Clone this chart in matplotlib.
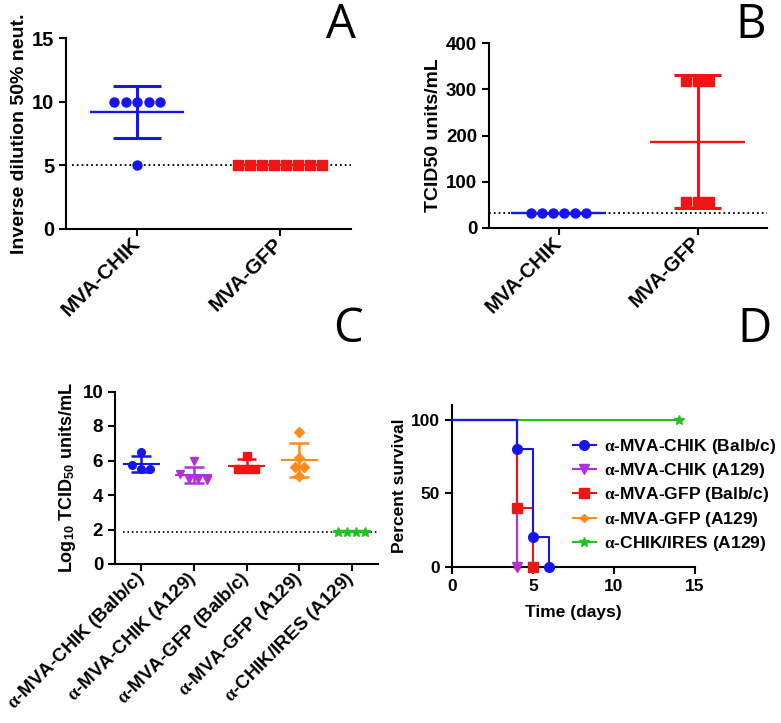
import numpy as np
import matplotlib
matplotlib.use("Agg")
import matplotlib.pyplot as plt
from matplotlib.lines import Line2D

plt.rcParams['font.family'] = ['Liberation Sans', 'DejaVu Sans']
plt.rcParams['font.weight'] = 'bold'
plt.rcParams['axes.labelweight'] = 'bold'
plt.rcParams['mathtext.fontset'] = 'custom'
plt.rcParams['mathtext.rm'] = 'Liberation Sans:bold'
plt.rcParams['mathtext.bf'] = 'Liberation Sans:bold'
plt.rcParams['mathtext.it'] = 'Liberation Serif'

# ---- data ----
# panel A: neutralisation titres
a_groups = ['MVA-CHIK', 'MVA-GFP']
a_chik = [10, 10, 10, 10, 10, 5]
a_gfp = [5, 5, 5, 5, 5, 5, 5, 5]
a_lod = 5

# panel B: TCID50 units/mL
b_groups = ['MVA-CHIK', 'MVA-GFP']
b_chik = [31.6, 31.6, 31.6, 31.6, 31.6, 31.6]
b_gfp = [318, 318, 318, 56, 56, 56]
b_lod = 31.6

# panel C: log10 TCID50
c_groups = [r'$\alpha$-MVA-CHIK (Balb/c)', r'$\alpha$-MVA-CHIK (A129)',
            r'$\alpha$-MVA-GFP (Balb/c)', r'$\alpha$-MVA-GFP (A129)',
            r'$\alpha$-CHIK/IRES (A129)']
c_values = [
    [6.5, 5.75, 5.5, 5.5],
    [5.95, 5.2, 4.95, 4.9, 4.85],
    [6.25, 5.5, 5.5, 5.5],
    [7.65, 6.15, 5.6, 5.6, 5.1],
    [1.85, 1.85, 1.85, 1.85],
]
c_lod = 1.85

# panel D: survival
d_times = [[0, 4, 5, 6], [0, 4], [0, 4, 5], [0, 4], [0, 14]]
d_surv = [[100, 80, 20, 0], [100, 0], [100, 40, 0], [100, 0], [100, 100]]

colors = ['#1515f0', '#b030e0', '#f01515', '#ff8c1a', '#1ec31e']
markers = ['o', 'v', 's', 'D', '*']


def swarm(vals, step, tol):
    vals = np.asarray(vals, float)
    order = np.argsort(-vals, kind='stable')
    groups = []
    for i in order:
        if groups and abs(vals[i] - vals[groups[-1][0]]) <= tol:
            groups[-1].append(i)
        else:
            groups.append([i])
    offs = np.zeros(len(vals))
    for g in groups:
        n = len(g)
        for k, i in enumerate(g):
            offs[i] = (k - (n - 1) / 2) * step
    return offs


def scatter_group(ax, x, vals, color, marker, ms, step, tol, mw, cw, lw_mean, lw_err):
    vals = np.asarray(vals, float)
    m = vals.mean()
    sd = vals.std(ddof=1)
    ax.hlines(m, x - mw, x + mw, color=color, lw=lw_mean, zorder=3)
    if sd > 0:
        ax.vlines(x, m - sd, m + sd, color=color, lw=lw_err, zorder=3)
        ax.hlines([m - sd, m + sd], x - cw, x + cw, color=color, lw=lw_err, zorder=3)
    offs = swarm(vals, step, tol)
    ax.plot(x + offs, vals, linestyle='none', marker=marker, ms=ms,
            color=color, mec=color, zorder=4, clip_on=False)


def style_axes(ax, ticksize, lw=1.5):
    for s in ['top', 'right']:
        ax.spines[s].set_visible(False)
    for s in ['left', 'bottom']:
        ax.spines[s].set_linewidth(lw)
    ax.tick_params(direction='out', length=5, width=lw)
    ax.tick_params(axis='y', labelsize=ticksize)
    for t in ax.get_xticklabels() + ax.get_yticklabels():
        t.set_fontweight('bold')


fig = plt.figure(figsize=(7.81, 7.23), dpi=100)
W, H = 781, 723


def add_ax(l, r, t, b):
    return fig.add_axes([l / W, 1 - b / H, (r - l) / W, (b - t) / H])


# ---- panel A ----
axA = add_ax(66, 351, 38, 229)
scatter_group(axA, 0, a_chik, colors[0], 'o', 6.5, 0.081, 0.1, 0.33, 0.17, 1.7, 2.2)
scatter_group(axA, 1, a_gfp, colors[2], 's', 6.5, 0.084, 0.1, 0.33, 0.17, 1.7, 2.2)
axA.axhline(a_lod, xmin=0.02, color='black', ls=':', lw=1.3, zorder=2)
axA.set_xlim(-0.5, 1.5)
axA.set_ylim(0, 15)
axA.set_yticks([0, 5, 10, 15])
axA.set_xticks([0, 1])
axA.set_xticklabels(a_groups, rotation=45, ha='right', va='center',
                    rotation_mode='anchor', fontsize=15, fontweight='bold')
axA.set_ylabel('Inverse dilution 50% neut.', fontsize=14, fontweight='bold', labelpad=3)
style_axes(axA, 14.5)

# ---- panel B ----
axB = add_ax(489, 767, 43, 228)
scatter_group(axB, 0, b_chik, colors[0], 'o', 6.5, 0.08, 5, 0.34, 0.17, 1.7, 2.2)
scatter_group(axB, 1, b_gfp, colors[2], 's', 6.5, 0.08, 5, 0.34, 0.17, 1.7, 2.2)
axB.axhline(b_lod, color='black', ls=':', lw=1.3, zorder=2)
axB.set_xlim(-0.5, 1.5)
axB.set_ylim(0, 400)
axB.set_yticks([0, 100, 200, 300, 400])
axB.set_xticks([0, 1])
axB.set_xticklabels(b_groups, rotation=45, ha='right', va='center',
                    rotation_mode='anchor', fontsize=14.5, fontweight='bold')
axB.set_ylabel('TCID50 units/mL', fontsize=14, fontweight='bold', labelpad=3)
style_axes(axB, 13.5)

# ---- panel C ----
axC = add_ax(115, 378, 391.5, 564)
for i, vals in enumerate(c_values):
    scatter_group(axC, i, vals, colors[i], markers[i], 5.5 if markers[i] != '*' else 7,
                  0.17, 0.4, 0.35, 0.19, 1.5, 1.8)
axC.axhline(c_lod, xmin=0.03, color='black', ls=':', lw=1.2, zorder=2)
axC.set_xlim(-0.5, 4.5)
axC.set_ylim(0, 10)
axC.set_yticks([0, 2, 4, 6, 8, 10])
axC.set_xticks(range(len(c_groups)))
axC.set_xticklabels(c_groups, rotation=45, ha='right', va='center',
                    rotation_mode='anchor', fontsize=13.5, fontweight='bold')
axC.set_ylabel(r'Log$_{10}$ TCID$_{50}$ units/mL', fontsize=13, fontweight='bold', labelpad=3)
style_axes(axC, 13.5)

# ---- panel D ----
axD = add_ax(452, 695, 405, 566.7)
zord = [5, 4, 4.5, 2, 1]
for i in range(5):
    t = d_times[i]
    s = d_surv[i]
    axD.step(t, s, where='post', color=colors[i], lw=1.5, zorder=zord[i], clip_on=False)
    axD.plot(t[1:], s[1:], linestyle='none', marker=markers[i],
             ms=7 if markers[i] != 'D' else 4, color=colors[i], zorder=zord[i] + 0.1, clip_on=False)
axD.set_xlim(0, 15)
axD.set_ylim(0, 110)
axD.set_xticks([0, 5, 10, 15])
axD.set_yticks([0, 50, 100])
axD.tick_params(axis='x', labelsize=12.5)
axD.set_xlabel('Time (days)', fontsize=12.5, fontweight='bold', labelpad=8)
axD.set_ylabel('Percent survival', fontsize=12.5, fontweight='bold', labelpad=3)
style_axes(axD, 12.5)

handles = [Line2D([], [], color=colors[i], marker=markers[i], lw=1.5,
                  ms=7 if markers[i] != 'D' else 4) for i in range(5)]
fig.legend(handles, c_groups, loc='upper left', bbox_to_anchor=(573 / W, 1 - 437 / H),
           frameon=False, prop={'size': 12.5, 'weight': 'bold'}, handlelength=1.3,
           handletextpad=0.5, labelspacing=0.3, borderpad=0, borderaxespad=0)

# ---- panel letters ----
for lbl, x, y in [('A', 341, 38), ('B', 751, 38), ('C', 348, 342), ('D', 755, 342)]:
    fig.text(x / W, 1 - y / H, lbl, fontsize=34, family='Open Sans',
             fontweight='normal', ha='center', va='baseline')

fig.savefig('out.png', dpi=100)
